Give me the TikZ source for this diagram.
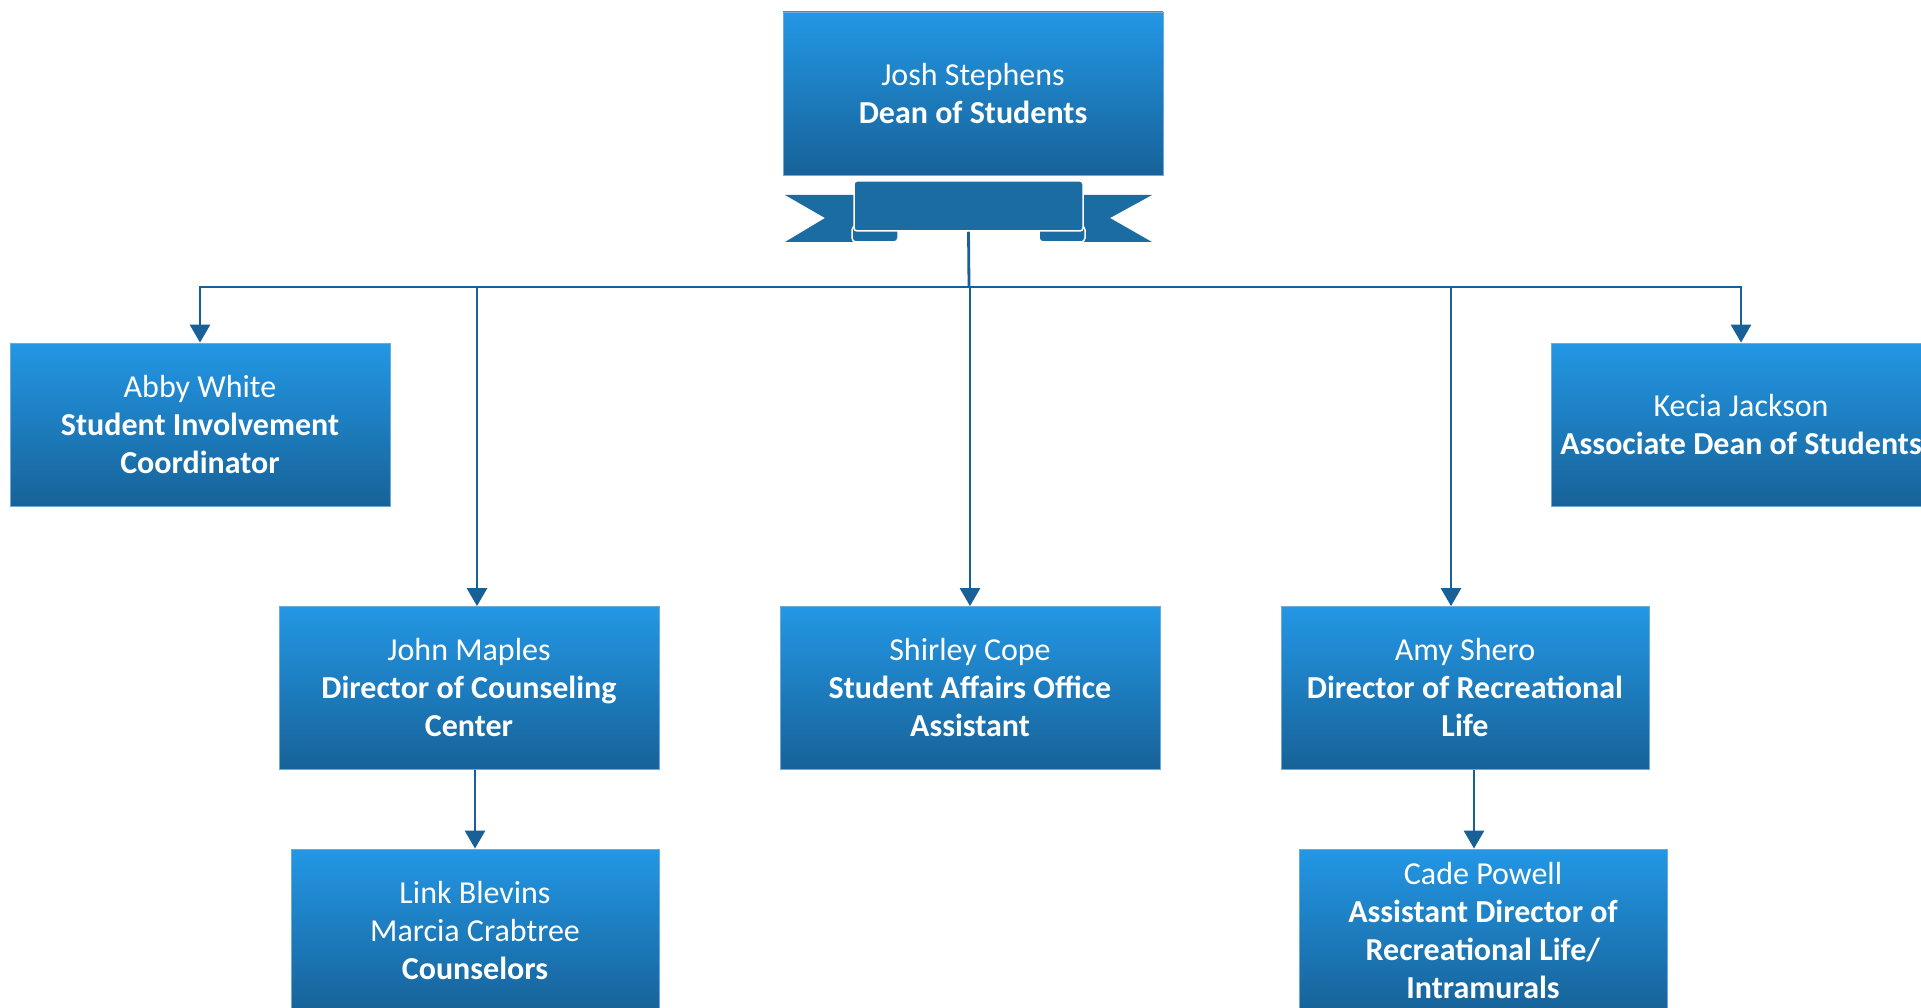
\documentclass[tikz,border=0pt]{standalone}
\usepackage{fontspec}
\setmainfont{Carlito}
\usetikzlibrary{arrows.meta}
\definecolor{boxtop}{RGB}{35,151,229}
\definecolor{boxbottom}{RGB}{23,98,152}
\definecolor{boxedge}{RGB}{110,170,215}
\definecolor{ribbonblue}{RGB}{26,108,163}
\definecolor{linkblue}{RGB}{24,96,150}
\begin{document}
\begin{tikzpicture}[x=1pt, y=-1pt,
        person/.style = {shape=rectangle, draw=boxedge, line width=0.8pt,
            minimum width=380pt, minimum height=163pt, align=center,
            top color=boxtop, bottom color=boxbottom, text=white,
            font=\fontsize{32}{38}\selectfont},
        narrow/.style = {person, minimum width=368pt},
        banner/.style = {shape=rectangle, fill=ribbonblue, draw=white,
            line width=1.5pt, rounded corners=3pt,
            minimum width=229pt, minimum height=50pt},
        curl/.style = {fill=ribbonblue, draw=white, line width=1.5pt,
            rounded corners=4pt},
        link/.style = {draw=linkblue, line width=2.8pt,
            -{Triangle[width=20pt,length=18pt]}}]
    \useasboundingbox (0,0) rectangle (1921,1008);
    \clip (0,0) rectangle (1921,1008);

    \node[person] (dean) at (973,93.5) {Josh Stephens\\\textbf{Dean of Students}};

    % ribbon under the dean
    \fill[ribbonblue] (785,195) -- (860,195) -- (860,242) -- (785,242) -- (825,218) -- cycle;
    \fill[ribbonblue] (1152,195) -- (1077,195) -- (1077,242) -- (1152,242) -- (1110,218) -- cycle;
    \draw[curl] (852,226) rectangle (898,242);
    \draw[curl] (1039,226) rectangle (1085,242);
    \node[banner] (ribbon) at (968.5,206) {};

    \node[person] (abby) at (200,424.5) {Abby White\\\textbf{Student Involvement}\\\textbf{Coordinator}};
    \node[person] (kecia) at (1741,424.5) {Kecia Jackson\\\textbf{Associate Dean of Students}};
    \node[person] (john) at (469,688) {John Maples\\\textbf{Director of Counseling}\\\textbf{Center}};
    \node[person] (shirley) at (970,688) {Shirley Cope\\\textbf{Student Affairs Office}\\\textbf{Assistant}};
    \node[narrow] (amy) at (1465,688) {Amy Shero\\\textbf{Director of Recreational}\\\textbf{Life}};
    \node[narrow] (counsel) at (475,930.5) {Link Blevins\\Marcia Crabtree\\\textbf{Counselors}};
    \node[narrow] (cade) at (1483,930.5) {Cade Powell\\\textbf{Assistant Director of}\\\textbf{Recreational Life/}\\\textbf{Intramurals}};

    \coordinate (bus) at (969,287);
    \draw[draw=linkblue, line width=2.8pt] (ribbon.south) -- (bus);
    \draw[link] (bus) -| (abby.north);
    \draw[link] (bus) -| (kecia.north);
    \draw[link] (bus) -| ([xshift=8pt]john.north);
    \draw[link] (bus) -| (shirley.north);
    \draw[link] (bus) -| ([xshift=-14pt]amy.north);
    \draw[link] (counsel.north |- john.south) -- (counsel.north);
    \draw[link] ([xshift=9pt]amy.south) -- ([xshift=-9pt]cade.north);
\end{tikzpicture}
\end{document}
